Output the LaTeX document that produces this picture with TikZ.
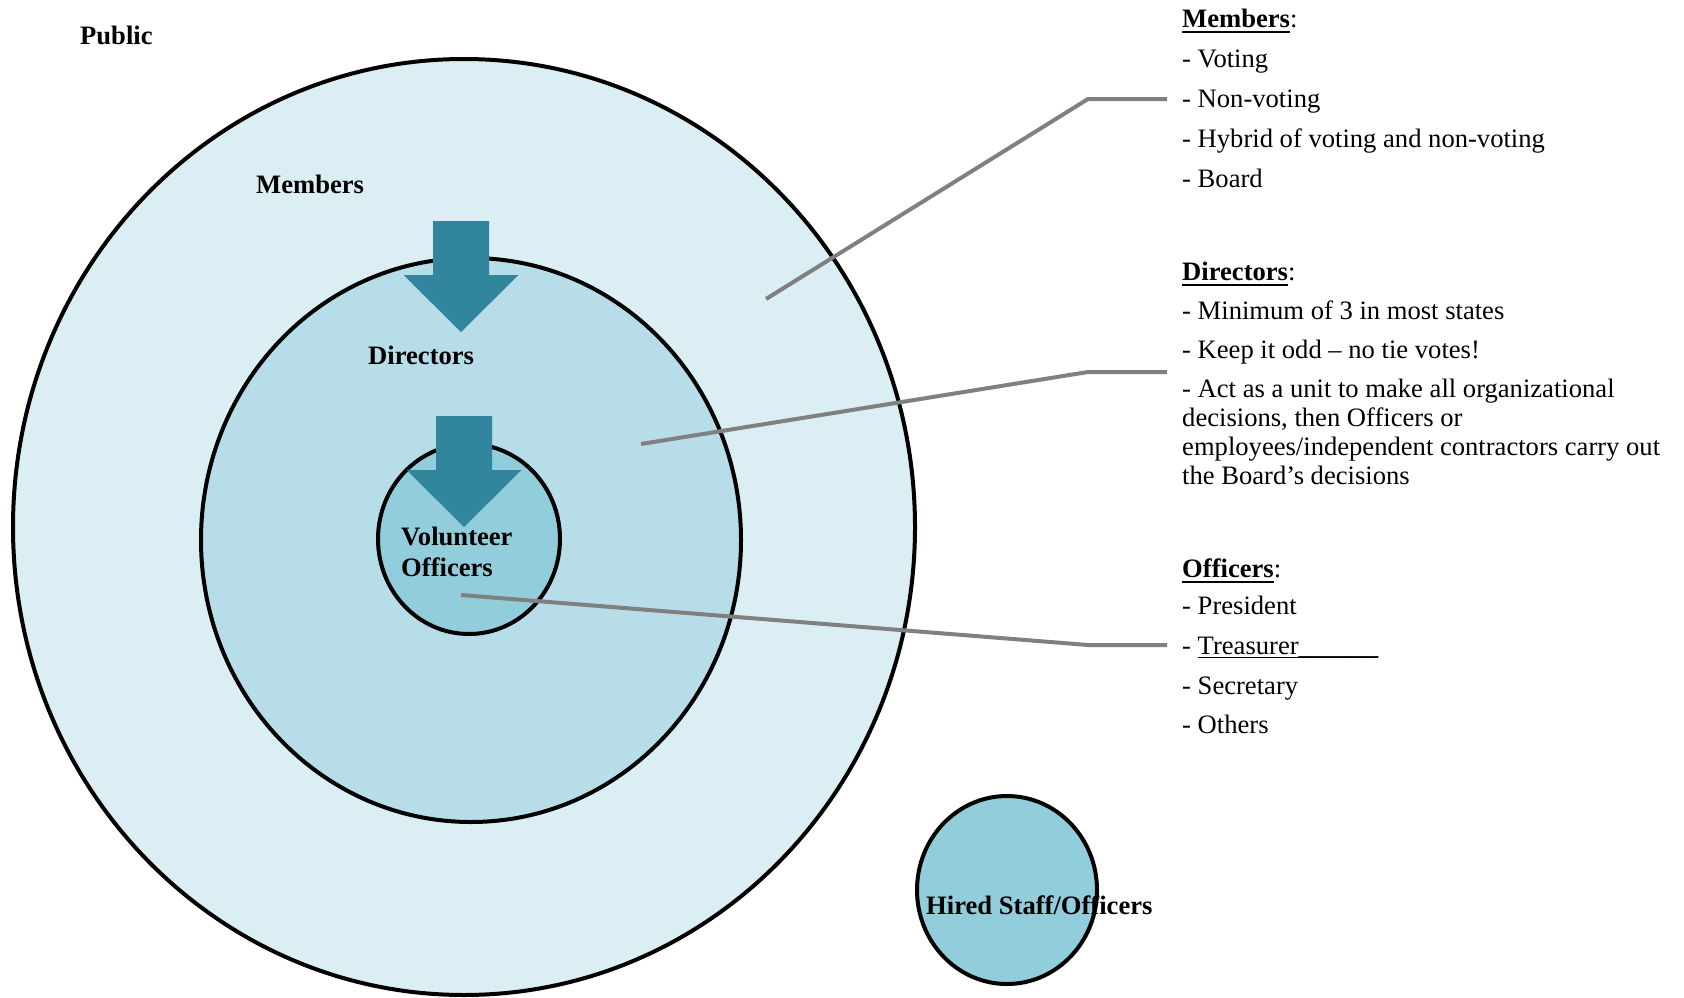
\documentclass[tikz,border=0pt]{standalone}
\usepackage{fontspec}
\setmainfont{Liberation Serif}
\usetikzlibrary{shapes.geometric}

\definecolor{membersfill}{HTML}{DAEEF3}
\definecolor{directorsfill}{HTML}{B6DDE8}
\definecolor{officersfill}{HTML}{92CDDC}
\definecolor{arrowteal}{HTML}{31859C}
\definecolor{calloutgray}{HTML}{808080}

% heading with a thick underline
\newcommand{\headul}[1]{\setbox0\hbox{#1}\rlap{\rule[-6pt]{\wd0}{2.6pt}}\box0}
\newcommand{\thinul}[1]{\setbox0\hbox{#1}\rlap{\rule[-4pt]{\wd0}{1.6pt}}\box0}

\begin{document}
\begin{tikzpicture}[
    x=1pt, y=-1pt,
    ring/.style={
      ellipse,
      draw=black,
      line width=4pt,
      inner sep=0pt
    },
    tag/.style={
      font=\fontsize{26.6}{31}\selectfont\bfseries,
      inner sep=0pt,
      anchor=base west
    },
    note/.style={
      font=\fontsize{26.6}{29}\selectfont,
      inner sep=0pt,
      anchor=north west,
      align=left
    },
    callout/.style={
      draw=calloutgray,
      line width=4pt
    },
    downarrow/.pic={
      \fill[arrowteal] (-28,0) -- (28,0) -- (28,54) -- (57.5,54) -- (0,111)
        -- (-57.5,54) -- (-28,54) -- cycle;
    }
  ]
  \useasboundingbox (0,0) rectangle (1684,998);

  % Circles
  \node[ring, fill=membersfill, minimum width=902pt, minimum height=936pt] (members) at (464,527) {};
  \node[ring, fill=directorsfill, minimum width=540pt, minimum height=564pt] (directors) at (471,540) {};
  \pic at (461,221) {downarrow};
  \node[ring, fill=officersfill, minimum width=182pt, minimum height=190pt] (officers) at (469,539) {};
  \pic at (464,416) {downarrow};
  \node[ring, fill=officersfill, minimum width=180pt, minimum height=188pt] (hired) at (1007,890) {};

  % Labels
  \node[tag] (publictag) at (80,45) {Public};
  \node[tag] (memberstag) at (256,193) {Members};
  \node[tag] (directorstag) at (368,364) {Directors};
  \node[tag, anchor=north west, align=left] (officerstag) at (401,523.3) {\strut Volunteer\\Officers};
  \node[tag] (hiredtag) at (926,914) {Hired Staff/Officers};

  % Notes
  \node[note] (membersnote) at (1182,6.7) {\strut\headul{\textbf{Members}}:\\[11pt]
    - Voting\\[11pt]
    - Non-voting\\[11pt]
    - Hybrid of voting and non-voting\\[11pt]
    - Board};
  \node[note] (directorsnote) at (1182,259.7) {\strut\headul{\textbf{Directors}}:\\[10pt]
    - Minimum of 3 in most states\\[10.5pt]
    - Keep it odd – no tie votes!\\[10pt]
    - Act as a unit to make all organizational\\
    decisions, then Officers or\\
    employees/independent contractors carry out\\
    the Board’s decisions};
  \node[note] (officersnote) at (1182,556.7) {\strut\headul{\textbf{Officers}}:\\[8pt]
    - President\\[11pt]
    - \thinul{Treasurer\_\_\_\_\_\_}\\[11pt]
    - Secretary\\[10.5pt]
    - Others};

  % Callouts
  \coordinate (memfrom) at (766,299);
  \coordinate (membend) at (1088,99);
  \coordinate (memto) at (1167,99);
  \coordinate (dirfrom) at (641,444);
  \coordinate (dirbend) at (1088,372);
  \coordinate (dirto) at (1167,372);
  \coordinate (offfrom) at (461,595);
  \coordinate (offbend) at (1088,645);
  \coordinate (offto) at (1167,645);
  \draw[callout] (memfrom) -- (membend) -- (memto);
  \draw[callout] (dirfrom) -- (dirbend) -- (dirto);
  \draw[callout] (offfrom) -- (offbend) -- (offto);

\end{tikzpicture}
\end{document}
